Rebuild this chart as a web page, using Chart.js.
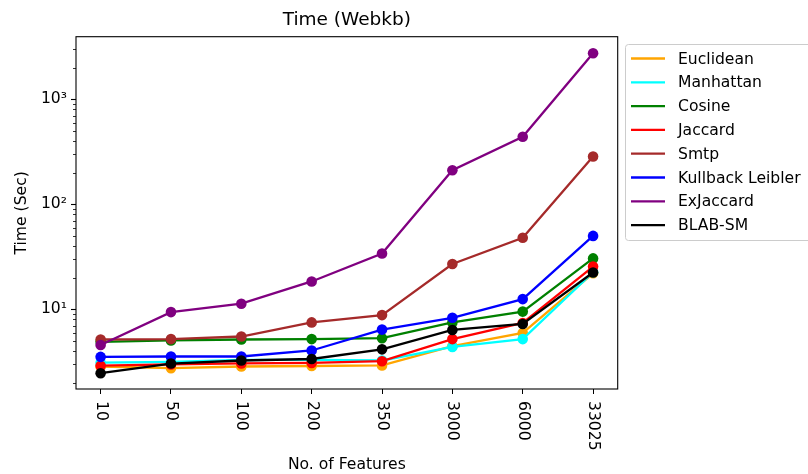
<!DOCTYPE html>
<html>
<head>
<meta charset="utf-8">
<script src="https://cdn.jsdelivr.net/npm/chart.js@4/dist/chart.umd.min.js"></script>
<style>
    body { margin: 0; background: #fff; }
    canvas { display: block; }
</style>
</head>
<body>
<canvas id="time-chart" width="808" height="474"></canvas>
<script>
// Features on the x axis (shown as categories)
const features = ['10', '50', '100', '200', '350', '3000', '6000', '33025'];

// Time in seconds
const euclidean = [2.85, 2.75, 2.85, 2.88, 2.92, 4.45, 5.95, 22];
const manhattan = [3.1, 3.15, 3.3, 3.3, 3.25, 4.38, 5.2, 22.5];
const cosine = [4.9, 5.05, 5.15, 5.2, 5.3, 7.5, 9.5, 30.5];
const jaccard = [2.9, 2.98, 3.05, 3.08, 3.2, 5.2, 7.4, 25.5];
const smtp = [5.15, 5.2, 5.5, 7.5, 8.8, 27, 48, 285];
const kullback = [3.52, 3.55, 3.55, 4.05, 6.4, 8.3, 12.5, 50];
const exJaccard = [4.56, 9.4, 11.3, 18.4, 34, 211, 440, 2740];
const blabSm = [2.46, 3.04, 3.25, 3.36, 4.15, 6.35, 7.25, 22.4];

const majorTicks = [10, 100, 1000];
const minorTicks = [2, 3, 4, 5, 6, 7, 8, 9, 20, 30, 40, 50, 60, 70, 80, 90,
                    200, 300, 400, 500, 600, 700, 800, 900, 2000, 3000];
const tickLabels = { 10: '10¹', 100: '10²', 1000: '10³' };

const FONT = "'DejaVu Sans', sans-serif";

const series = [
    { label: 'Euclidean', data: euclidean, color: '#FFA500' },
    { label: 'Manhattan', data: manhattan, color: '#00FFFF' },
    { label: 'Cosine', data: cosine, color: '#008000' },
    { label: 'Jaccard', data: jaccard, color: '#FF0000' },
    { label: 'Smtp', data: smtp, color: '#A52A2A' },
    { label: 'Kullback Leibler', data: kullback, color: '#0000FF' },
    { label: 'ExJaccard', data: exJaccard, color: '#800080' },
    { label: 'BLAB-SM', data: blabSm, color: '#000000' }
];

// frame, title, minor ticks, rotated x labels and legend (matplotlib look)
const decorations = {
    id: 'decorations',
    afterDraw(chart) {
        const ctx = chart.ctx;
        const area = chart.chartArea;
        const xs = chart.scales.x;
        const ys = chart.scales.y;
        ctx.save();

        // axes frame
        ctx.strokeStyle = '#000';
        ctx.lineWidth = 1.1;
        ctx.strokeRect(area.left, area.top, area.right - area.left, area.bottom - area.top);

        // minor y ticks
        ctx.lineWidth = 0.8;
        minorTicks.forEach(v => {
            if (v < ys.min || v > ys.max) return;
            const y = Math.round(ys.getPixelForValue(v)) + 0.5;
            ctx.beginPath();
            ctx.moveTo(area.left - 3, y);
            ctx.lineTo(area.left, y);
            ctx.stroke();
        });

        // title
        ctx.fillStyle = '#000';
        ctx.font = `18.5px ${FONT}`;
        ctx.textAlign = 'center';
        ctx.textBaseline = 'middle';
        ctx.fillText('Time (Webkb)', (area.left + area.right) / 2, 20);

        // x tick labels, rotated clockwise
        ctx.font = `15.6px ${FONT}`;
        ctx.textAlign = 'left';
        features.forEach((f, i) => {
            const x = xs.getPixelForValue(i);
            ctx.save();
            ctx.translate(x, area.bottom + 12);
            ctx.rotate(Math.PI / 2);
            ctx.fillText(f, 0, 0);
            ctx.restore();
        });

        // legend
        const lx = 625.5, ly = 44.5, lw = 190, lh = 196;
        ctx.beginPath();
        ctx.roundRect(lx, ly, lw, lh, 3);
        ctx.fillStyle = 'rgba(255,255,255,0.8)';
        ctx.fill();
        ctx.strokeStyle = '#cccccc';
        ctx.lineWidth = 1;
        ctx.stroke();

        ctx.textBaseline = 'middle';
        chart.data.datasets.forEach((ds, i) => {
            const y = 58.5 + i * 23.8;
            ctx.strokeStyle = ds.borderColor;
            ctx.lineWidth = 2.3;
            ctx.beginPath();
            ctx.moveTo(631, y);
            ctx.lineTo(665, y);
            ctx.stroke();
            ctx.fillStyle = '#000';
            ctx.fillText(ds.label, 678, y + 1);
        });

        ctx.restore();
    }
};

const chart = new Chart(document.getElementById('time-chart'), {
    type: 'line',
    data: {
        datasets: series.map((s, i) => ({
            label: s.label,
            data: s.data.map((v, j) => ({ x: j, y: v })),
            borderColor: s.color,
            backgroundColor: s.color,
            borderWidth: 2.3,
            pointRadius: 5.3,
            pointHoverRadius: 5.3,
            pointBorderWidth: 0,
            pointBackgroundColor: s.color,
            tension: 0,
            clip: false,
            order: series.length - i
        }))
    },
    options: {
        responsive: false,
        animation: false,
        events: [],
        layout: {
            padding: { top: 36.7, right: 190.3, left: 0, bottom: 0 }
        },
        plugins: {
            legend: { display: false },
            title: { display: false },
            tooltip: { enabled: false }
        },
        scales: {
            x: {
                type: 'linear',
                min: -0.35,
                max: features.length - 1 + 0.35,
                afterBuildTicks: scale => {
                    scale.ticks = features.map((f, i) => ({ value: i }));
                },
                afterFit: scale => { scale.height = 85; },
                ticks: { display: false },
                grid: {
                    drawOnChartArea: false,
                    drawTicks: true,
                    tickLength: 5,
                    tickColor: '#000',
                    tickWidth: 1
                },
                border: { display: false },
                title: {
                    display: true,
                    text: 'No. of Features',
                    color: '#000',
                    font: { family: FONT, size: 15.6 },
                    padding: { top: 0, bottom: 0 }
                }
            },
            y: {
                type: 'logarithmic',
                min: 1.74,
                max: 3945,
                afterBuildTicks: scale => {
                    scale.ticks = majorTicks.map(v => ({ value: v }));
                },
                afterFit: scale => { scale.width = 76; },
                ticks: {
                    color: '#000',
                    font: { family: FONT, size: 15.6 },
                    padding: 4,
                    callback: v => tickLabels[v] || ''
                },
                grid: {
                    drawOnChartArea: false,
                    drawTicks: true,
                    tickLength: 5,
                    tickColor: '#000',
                    tickWidth: 1.1
                },
                border: { display: false },
                title: {
                    display: true,
                    text: 'Time (Sec)',
                    color: '#000',
                    font: { family: FONT, size: 15.6 },
                    padding: { top: 12.6, bottom: 0 }
                }
            }
        }
    },
    plugins: [decorations]
});
</script>
</body>
</html>
